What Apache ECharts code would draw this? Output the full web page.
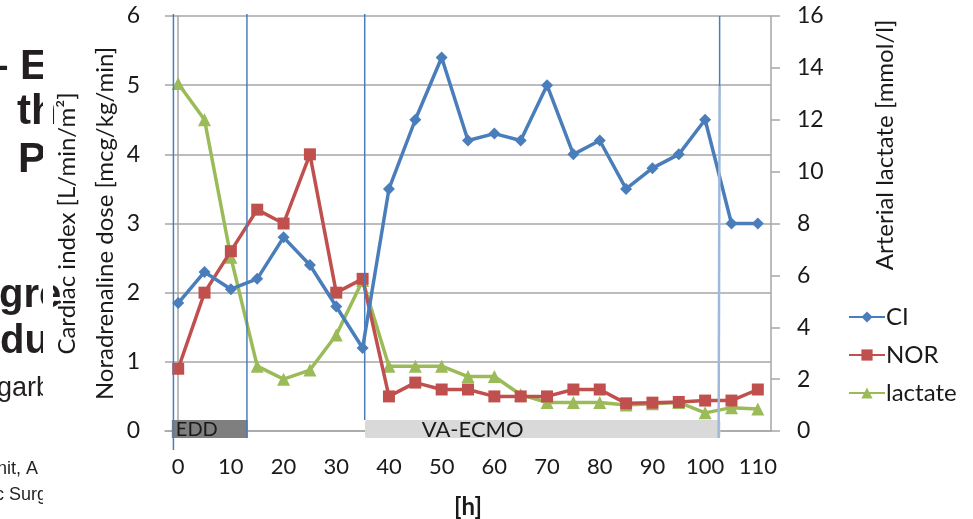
<!DOCTYPE html>
<html>
<head>
<meta charset="utf-8">
<script src="https://cdn.jsdelivr.net/npm/echarts@6/dist/echarts.min.js"></script>
<style>
  html, body { margin: 0; padding: 0; background: #ffffff; }
  #chart { width: 973px; height: 519px; }
</style>
</head>
<body>
<div id="chart"></div>
<script>
// Time points (hours) and the three monitored parameters
const hours = [0, 5, 10, 15, 20, 25, 30, 35, 40, 45, 50, 55, 60, 65, 70, 75, 80, 85, 90, 95, 100, 105, 110];
const cardiacIndex = [1.85, 2.3, 2.05, 2.2, 2.8, 2.4, 1.8, 1.2, 3.5, 4.5, 5.4, 4.2, 4.3, 4.2, 5.0, 4.0, 4.2, 3.5, 3.8, 4.0, 4.5, 3.0, 3.0];
const noradrenaline = [0.9, 2.0, 2.6, 3.2, 3.0, 4.0, 2.0, 2.2, 0.5, 0.7, 0.6, 0.6, 0.5, 0.5, 0.5, 0.6, 0.6, 0.4, 0.41, 0.42, 0.44, 0.44, 0.6];
const lactate = [13.4, 12.0, 6.7, 2.5, 2.0, 2.35, 3.7, 5.8, 2.5, 2.5, 2.5, 2.1, 2.1, 1.4, 1.1, 1.1, 1.1, 1.0, 1.05, 1.1, 0.7, 0.9, 0.85];

// Axis titles
const leftTitles = ['Cardiac index [L/min/m²]', 'Noradrenaline dose [mcg/kg/min]'];
const rightTitle = 'Arterial lactate [mmol/l]';

// Treatment phases (start / end hour) and phase boundary markers (hour)
const phases = [
  { name: 'EDD', from: -1.2, to: 13.2, dark: true },
  { name: 'VA-ECMO', from: 35.45, to: 102.9, dark: false }
];
const boundaries = [-0.9, 13.05, 35.4, 102.75];

// Fragments of the slide text partly hidden behind the chart
const slideFragments = [
  { text: '– E', x: -15, y: 67, size: 42, bold: true },
  { text: 'th', x: 17, y: 112, size: 42, bold: true },
  { text: 'P', x: 18, y: 160, size: 42, bold: true },
  { text: 'gre', x: -1, y: 296, size: 40, bold: true },
  { text: 'du', x: 0, y: 342, size: 40, bold: true },
  { text: 'garb', x: -3, y: 389, size: 27, bold: false },
  { text: 'nit, A', x: -3, y: 469, size: 18, bold: false },
  { text: 'c Surg', x: -5, y: 495, size: 18, bold: false }
];

const BLUE = '#4a7ebb';
const RED = '#c0504d';
const GREEN = '#9bbb59';
const GRID = '#a6a6a6';
const INK = '#1a1a1a';
const FONT = 'Lato';

const chart = echarts.init(document.getElementById('chart'), null, { renderer: 'canvas' });

const option = {
  backgroundColor: '#ffffff',
  animation: false,
  textStyle: { fontFamily: FONT },
  grid: { left: 165, right: 202, top: 16, bottom: 88, containLabel: false, outerBoundsMode: 'none' },
  legend: {
    orient: 'vertical',
    left: 843,
    top: 300,
    itemWidth: 36,
    itemHeight: 14,
    itemGap: 14,
    textStyle: { fontFamily: FONT, fontSize: 24, color: INK, padding: [0, 0, 0, -4] },
    data: ['CI', 'NOR', 'lactate']
  },
  xAxis: [
    {
      type: 'category',
      data: hours.map(String),
      boundaryGap: true,
      axisLine: { show: true, lineStyle: { color: GRID, width: 1.5 } },
      axisTick: { show: false },
      axisLabel: { interval: 1, margin: 25, fontSize: 22, color: INK, fontFamily: FONT },
      name: '[h]',
      nameLocation: 'middle',
      nameGap: 64,
      nameTextStyle: { fontSize: 24, fontWeight: 'bold', color: INK, fontFamily: FONT }
    },
    {
      // Continuous hour axis used to place the phase annotations
      type: 'value',
      min: -2.5,
      max: 112.5,
      show: false
    }
  ],
  yAxis: [
    {
      type: 'value',
      min: 0,
      max: 6,
      interval: 1,
      position: 'left',
      axisLine: { show: true, lineStyle: { color: GRID, width: 1.5 } },
      axisTick: { show: false },
      axisLabel: { margin: 25, fontSize: 23, color: INK, fontFamily: FONT },
      splitLine: { show: true, lineStyle: { color: GRID, width: 1.5 } }
    },
    {
      type: 'value',
      min: 0,
      max: 16,
      interval: 2,
      position: 'right',
      axisLine: { show: true, lineStyle: { color: GRID, width: 1.5 } },
      axisTick: { show: true, inside: false, length: 9, lineStyle: { color: GRID, width: 1.5 } },
      axisLabel: { margin: 26, fontSize: 23, color: INK, fontFamily: FONT },
      splitLine: { show: false }
    }
  ],
  series: [
    {
      name: 'CI',
      type: 'line',
      yAxisIndex: 0,
      data: cardiacIndex,
      symbol: 'diamond',
      symbolSize: 12,
      lineStyle: { color: BLUE, width: 3.5 },
      itemStyle: { color: BLUE },
      z: 5
    },
    {
      name: 'NOR',
      type: 'line',
      yAxisIndex: 0,
      data: noradrenaline,
      symbol: 'rect',
      symbolSize: 12,
      lineStyle: { color: RED, width: 3.5 },
      itemStyle: { color: RED },
      z: 4
    },
    {
      name: 'lactate',
      type: 'line',
      yAxisIndex: 1,
      data: lactate,
      symbol: 'triangle',
      symbolSize: 13,
      lineStyle: { color: GREEN, width: 3.5 },
      itemStyle: { color: GREEN },
      z: 3
    },
    {
      type: 'line',
      xAxisIndex: 1,
      yAxisIndex: 0,
      data: [],
      silent: true
    }
  ]
};

chart.setOption(option);

// Phase bars, boundary lines, axis titles and the slide text fragments
function buildGraphics() {
  const px = h => chart.convertToPixel({ xAxisIndex: 1 }, h);
  const py = v => chart.convertToPixel({ yAxisIndex: 0 }, v);
  const yTop = py(6);
  const yBase = py(0);
  const yMid = (yTop + yBase) / 2;
  const barTop = yBase - 11;
  const barBottom = yBase + 7;
  const els = [];

  phases.forEach(p => {
    const x0 = px(p.from);
    const x1 = px(p.to);
    els.push({
      type: 'rect',
      shape: { x: x0, y: barTop, width: x1 - x0, height: barBottom - barTop, r: p.dark ? 0 : 2 },
      style: { fill: p.dark ? '#7f7f7f' : '#d9d9d9' },
      z: 10
    });
    els.push({
      type: 'text',
      style: {
        text: p.name,
        x: p.dark ? x0 + 4 : (x0 + x1) / 2 - 70,
        y: (barTop + barBottom) / 2 + 1,
        textAlign: p.dark ? 'left' : 'center',
        textVerticalAlign: 'middle',
        fontFamily: FONT,
        fontSize: p.dark ? 20 : 22,
        fill: INK
      },
      z: 11
    });
  });

  const lineEnds = [barBottom + 12, barBottom, barTop, barBottom];
  boundaries.forEach((h, i) => {
    const x = px(h);
    if (i === boundaries.length - 1) {
      els.push({
        type: 'line',
        shape: { x1: x, y1: yTop, x2: x, y2: yTop + 70 },
        style: { stroke: BLUE, lineWidth: 1.5 },
        z: 12
      });
      els.push({
        type: 'line',
        shape: { x1: x, y1: yTop + 70, x2: x - 1, y2: lineEnds[i] },
        style: { stroke: '#9fb8dc', lineWidth: 2.5 },
        z: 12
      });
    } else {
      els.push({
        type: 'line',
        shape: { x1: x, y1: yTop - 2, x2: x, y2: lineEnds[i] },
        style: { stroke: BLUE, lineWidth: 1.5 },
        z: 12
      });
    }
  });

  // left axis titles, two stacked lines read bottom to top
  [67, 105].forEach((cx, i) => {
    els.push({
      type: 'text',
      x: cx,
      y: yMid,
      rotation: Math.PI / 2,
      style: {
        text: leftTitles[i],
        textAlign: 'center',
        textVerticalAlign: 'middle',
        fontFamily: FONT,
        fontSize: 24,
        fill: INK
      },
      z: 10
    });
  });

  els.push({
    type: 'text',
    x: 885,
    y: 145,
    rotation: Math.PI / 2,
    style: {
      text: rightTitle,
      textAlign: 'center',
      textVerticalAlign: 'middle',
      fontFamily: FONT,
      fontSize: 24,
      fill: INK
    },
    z: 10
  });

  slideFragments.forEach(f => {
    els.push({
      type: 'text',
      style: {
        text: f.text,
        x: f.x,
        y: f.y,
        textAlign: 'left',
        textVerticalAlign: 'middle',
        fontFamily: 'Liberation Sans',
        fontSize: f.size,
        fontWeight: f.bold ? 'bold' : 'normal',
        fill: '#231f20'
      },
      z: 1
    });
  });
  // the chart panel covers the rest of the slide text
  els.push({
    type: 'rect',
    shape: { x: 43, y: 0, width: 10, height: 519 },
    style: { fill: '#ffffff' },
    z: 2
  });

  chart.setOption({ graphic: els });
}

buildGraphics();
</script>
</body>
</html>
